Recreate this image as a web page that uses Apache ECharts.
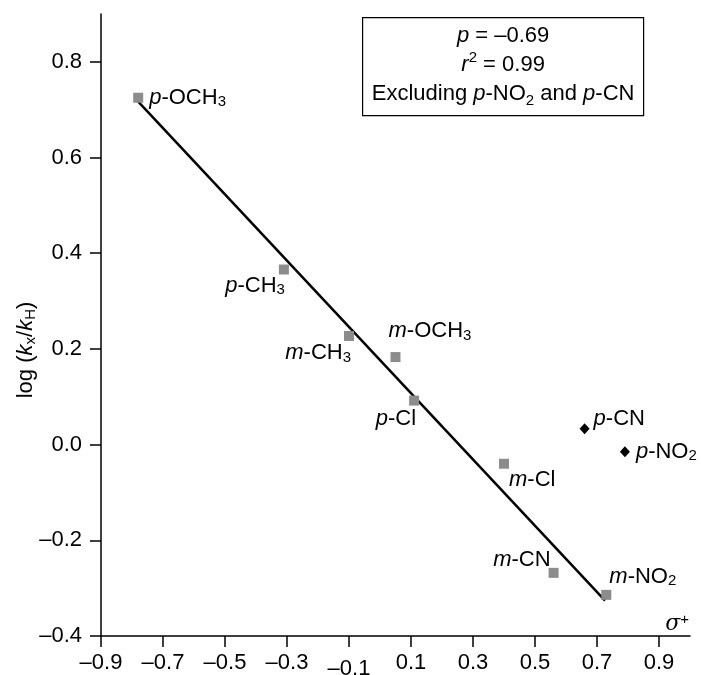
<!DOCTYPE html>
<html>
<head>
<meta charset="utf-8">
<script src="https://cdn.jsdelivr.net/npm/echarts@6/dist/echarts.min.js"></script>
<style>
  html, body { margin: 0; padding: 0; background: #fff; }
  #chart { width: 701px; height: 675px; }
</style>
</head>
<body>
<div id="chart"></div>
<script>
// ---- data ----
const substituents = ['p-OCH3', 'p-CH3', 'm-CH3', 'm-OCH3', 'p-Cl', 'm-Cl', 'm-CN', 'm-NO2'];
const sigmaPlus    = [-0.78, -0.31, -0.10, 0.05, 0.11, 0.40, 0.56, 0.73];
const logRatio     = [0.725, 0.366, 0.227, 0.183, 0.092, -0.040, -0.268, -0.314];

const excludedNames = ['p-CN', 'p-NO2'];
const excludedSigma = [0.66, 0.79];
const excludedLog   = [0.033, -0.015];

const fitX = [-0.78, 0.726];
const fitY = [0.717, -0.326];

const xTicks = [-0.9, -0.7, -0.5, -0.3, -0.1, 0.1, 0.3, 0.5, 0.7, 0.9];
const yTicks = [-0.4, -0.2, 0.0, 0.2, 0.4, 0.6, 0.8];

const statLines = ['{i|p} = \u20130.69', '{i|r}{sup|2} = 0.99', 'Excluding {i|p}-NO{sub|2} and {i|p}-CN'];

// ---- styling / layout ----
const FONT = '"Liberation Sans", Arial, Helvetica, sans-serif';
const FS = 22;
const SFS = 15;
const TXT = '#000';

// label placement: [align, dx, dy] relative to marker centre
const labelPlace = {
  'p-OCH3': ['left', 11, 0],
  'p-CH3':  ['right', 1, 16],
  'm-CH3':  ['right', 2, 17],
  'm-OCH3': ['left', -7, -26],
  'p-Cl':   ['right', 2, 18],
  'm-Cl':   ['left', 5, 16],
  'm-CN':   ['right', -3, -13],
  'm-NO2':  ['left', 3, -18],
  'p-CN':   ['left', 9, -10],
  'p-NO2':  ['left', 11, 0]
};

function richName(n) {
  let s = '{i|' + n[0] + '}';
  s += n.slice(1).replace(/(\d+)/g, '{sub|$1}');
  return s;
}

const noStroke = { textBorderWidth: 0, textBorderColor: 'transparent', textShadowBlur: 0, opacity: 1 };
const richStyles = {
  i:   Object.assign({ fontStyle: 'italic', fontSize: FS, fontFamily: FONT, color: TXT, lineHeight: 24 }, noStroke),
  sub: Object.assign({ fontSize: SFS, fontFamily: FONT, color: TXT, lineHeight: 12, verticalAlign: 'bottom' }, noStroke),
  sup: Object.assign({ fontSize: SFS, fontFamily: FONT, color: TXT, lineHeight: 12, verticalAlign: 'top' }, noStroke),
  low: Object.assign({ fontSize: FS, fontFamily: FONT, color: TXT, padding: [6, 0, 0, 0] }, noStroke)
};

function pointLabel(name) {
  const p = labelPlace[name];
  return Object.assign({
    show: true,
    position: 'inside',
    align: p[0],
    verticalAlign: 'middle',
    offset: [p[1], p[2]],
    formatter: richName(name),
    fontSize: FS,
    fontFamily: FONT,
    color: TXT,
    lineHeight: 24,
    rich: richStyles
  }, noStroke);
}

const mainData = substituents.map((n, k) => ({
  name: n, value: [sigmaPlus[k], logRatio[k]], label: pointLabel(n)
}));
const exclData = excludedNames.map((n, k) => ({
  name: n, value: [excludedSigma[k], excludedLog[k]], label: pointLabel(n)
}));
const fitData = fitX.map((x, k) => [x, fitY[k]]);

function fmt(v, digits) {
  let s = Number(v).toFixed(digits);
  if (s === '-0.0') s = '0.0';
  return s.replace('-', '\u2013');
}

const chart = echarts.init(document.getElementById('chart'), null, { renderer: 'canvas' });
chart.setOption({
  animation: false,
  backgroundColor: '#fff',
  grid: { left: 101, right: 11, top: 14, bottom: 39, containLabel: false, outerBoundsMode: 'none' },
  xAxis: {
    type: 'value',
    min: -0.9, max: 1.0,
    name: '{s|\u03c3}{sup|+}',
    nameLocation: 'end',
    nameGap: -1,
    nameMoveOverlap: false,
    nameTextStyle: {
      align: 'right', verticalAlign: 'bottom', padding: [0, 0, 0, 0],
      fontSize: FS, fontFamily: FONT, color: TXT,
      rich: {
        s: { fontStyle: 'italic', fontSize: FS, fontFamily: 'DejaVu Serif, serif', color: TXT, lineHeight: 24 },
        sup: { fontSize: SFS, fontFamily: FONT, color: TXT, lineHeight: 12, verticalAlign: 'top' }
      }
    },
    axisLine: { show: true, onZero: false, lineStyle: { color: '#000', width: 1.5 } },
    axisTick: { show: true, inside: false, length: 11, customValues: xTicks, lineStyle: { color: '#000', width: 1.5 } },
    axisLabel: {
      customValues: xTicks,
      margin: 16,
      fontSize: FS, fontFamily: FONT, color: TXT,
      formatter: function (v) {
        const s = fmt(v, 1);
        return Math.abs(v + 0.1) < 1e-9 ? '{low|' + s + '}' : s;
      },
      rich: richStyles
    },
    splitLine: { show: false }
  },
  yAxis: {
    type: 'value',
    min: -0.4, max: 0.9,
    name: 'log ({i|k}{sub|x}/{i|k}{sub|H})',
    nameLocation: 'middle',
    nameGap: 63,
    nameRotate: 90,
    nameMoveOverlap: false,
    nameTextStyle: {
      fontSize: FS, fontFamily: FONT, color: TXT, lineHeight: 24,
      padding: [0, 50, 0, 0],
      rich: richStyles
    },
    axisLine: { show: true, onZero: false, lineStyle: { color: '#000', width: 1.5 } },
    axisTick: { show: true, inside: false, length: 11, customValues: yTicks, lineStyle: { color: '#000', width: 1.5 } },
    axisLabel: {
      customValues: yTicks,
      margin: 19,
      fontSize: FS, fontFamily: FONT, color: TXT,
      formatter: function (v) { return fmt(v, 1); }
    },
    splitLine: { show: false }
  },
  series: [
    {
      type: 'line',
      data: fitData,
      symbol: 'none',
      lineStyle: { color: '#000', width: 2.5 },
      z: 2,
      silent: true
    },
    {
      type: 'scatter',
      data: mainData,
      symbol: 'rect',
      symbolSize: 10,
      itemStyle: { color: '#8c8c8c', opacity: 1 },
      z: 3
    },
    {
      type: 'scatter',
      data: exclData,
      symbol: 'diamond',
      symbolSize: [10, 11],
      itemStyle: { color: '#000', opacity: 1 },
      z: 3
    }
  ],
  graphic: [
    {
      type: 'group',
      left: 362,
      top: 17,
      children: [
        {
          type: 'rect',
          shape: { x: 0, y: 0, width: 281, height: 98 },
          style: { fill: '#fff', stroke: '#000', lineWidth: 1.2 }
        },
        {
          type: 'text',
          x: 140.5,
          y: 47,
          style: {
            text: statLines.join('\n'),
            align: 'center',
            verticalAlign: 'middle',
            fontSize: FS,
            fontFamily: FONT,
            fill: TXT,
            lineHeight: 29,
            rich: {
              i:   { fontStyle: 'italic', fontSize: FS, fontFamily: FONT, fill: TXT, lineHeight: 29 },
              sub: { fontSize: SFS, fontFamily: FONT, fill: TXT, lineHeight: 18, verticalAlign: 'bottom' },
              sup: { fontSize: SFS, fontFamily: FONT, fill: TXT, lineHeight: 18, verticalAlign: 'top' }
            }
          }
        }
      ]
    }
  ]
});
</script>
</body>
</html>
